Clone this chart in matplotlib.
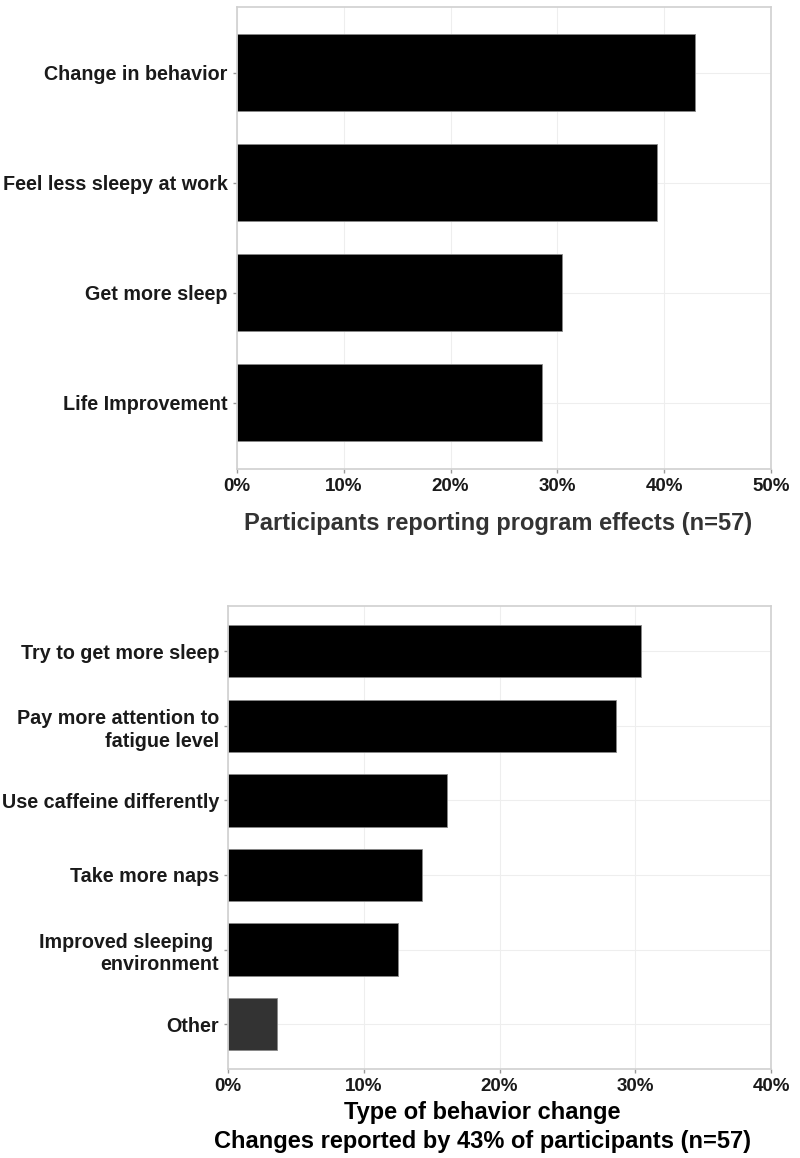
import matplotlib.pyplot as plt
from matplotlib.ticker import PercentFormatter

# top panel: program effects (percent of participants)
effects = ["Change in behavior", "Feel less sleepy at work", "Get more sleep", "Life Improvement"]
effect_pct = [42.9, 39.3, 30.4, 28.6]
effect_ticks = [0, 10, 20, 30, 40, 50]

# bottom panel: type of behavior change
changes = ["Try to get more sleep", "Pay more attention to\nfatigue level", "Use caffeine differently",
           "Take more naps", "Improved sleeping \nenvironment", "Other"]
change_pct = [30.4, 28.6, 16.1, 14.3, 12.5, 3.6]
change_colors = ["black", "black", "black", "black", "black", "#333333"]
change_ticks = [0, 10, 20, 30, 40]

plt.rcParams['font.family'] = ['Liberation Sans', 'DejaVu Sans']
plt.rcParams['font.weight'] = 'bold'

fig = plt.figure(figsize=(8, 11.58), dpi=100)
ax1 = fig.add_axes([0.296, 0.595, 0.668, 0.399])
ax2 = fig.add_axes([0.285, 0.0769, 0.679, 0.3994])


def style_axis(ax, labels, ticks):
    ax.set_yticks(range(len(labels)))
    ax.set_yticklabels(labels, fontsize=14.2, color="#1a1a1a", fontweight='bold', linespacing=1.25)
    ax.set_ylim(len(labels) - 0.4, -0.6)
    ax.set_xticks(ticks)
    ax.set_xlim(0, ticks[-1])
    ax.xaxis.set_major_formatter(PercentFormatter(decimals=0))
    for lab in ax.get_xticklabels():
        lab.set_fontsize(13.5)
        lab.set_color("#1a1a1a")
        lab.set_fontweight('bold')
    ax.tick_params(length=3, color="#999999", width=1)
    ax.grid(True, color="#eeeeee", linewidth=0.8)
    ax.set_axisbelow(True)
    for s in ax.spines.values():
        s.set_color("#d0d0d0")
        s.set_linewidth(1.2)


ax1.barh(range(len(effects)), effect_pct, height=0.7, color="black", edgecolor="#888888", linewidth=0.6)
style_axis(ax1, effects, effect_ticks)
ax1.set_xlabel("Participants reporting program effects (n=57)", fontsize=17,
               color="#333333", fontweight='bold', labelpad=12)
ax1.xaxis.label.set_x(0.488)

ax2.barh(range(len(changes)), change_pct, height=0.7, color=change_colors, edgecolor="#888888", linewidth=0.6)
style_axis(ax2, changes, change_ticks)
ax2.set_xlabel("Type of behavior change\nChanges reported by 43% of participants (n=57)",
               fontsize=17, color="black", fontweight='bold', labelpad=4, linespacing=1.35)
ax2.xaxis.label.set_x(0.468)

fig.savefig("out.png", dpi=100)
